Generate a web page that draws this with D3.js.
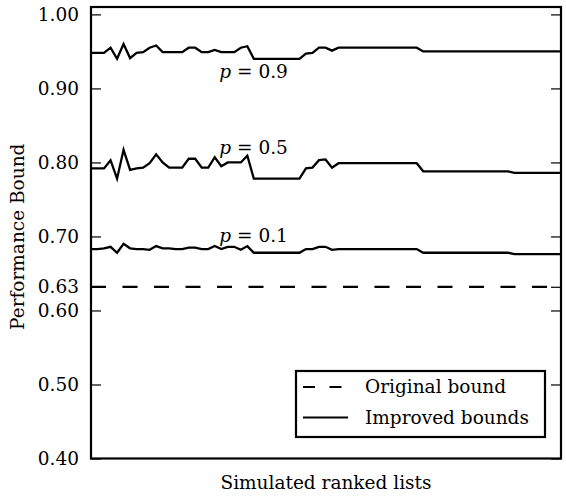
<!DOCTYPE html>
<html>
<head>
<meta charset="utf-8">
<script src="https://cdn.jsdelivr.net/npm/d3@7"></script>
<style>
  body { margin: 0; background: #fff; }
  svg text { font-family: "DejaVu Serif", serif; fill: #000; }
</style>
</head>
<body>
<div id="chart"><svg></svg></div>
<script>
// bounds per simulated ranked list (index 0..72)
const p09 = [
  0.948, 0.948, 0.948, 0.955, 0.940, 0.960, 0.941, 0.948, 0.949, 0.955,
  0.958, 0.949, 0.949, 0.949, 0.949, 0.955, 0.955, 0.949, 0.949, 0.952,
  0.949, 0.949, 0.949, 0.955, 0.957, 0.940, 0.940, 0.940, 0.940, 0.940,
  0.940, 0.940, 0.940, 0.947, 0.948, 0.955, 0.955, 0.951, 0.955, 0.955,
  0.955, 0.955, 0.955, 0.955, 0.955, 0.955, 0.955, 0.955, 0.955, 0.955,
  0.955, 0.950, 0.950, 0.950, 0.950, 0.950, 0.950, 0.950, 0.950, 0.950,
  0.950, 0.950, 0.950, 0.950, 0.950, 0.950, 0.950, 0.950, 0.950, 0.950,
  0.950, 0.950, 0.950
];
const p05 = [
  0.792, 0.792, 0.792, 0.803, 0.778, 0.817, 0.790, 0.792, 0.793, 0.799,
  0.811, 0.800, 0.793, 0.793, 0.793, 0.805, 0.805, 0.793, 0.793, 0.807,
  0.795, 0.800, 0.800, 0.800, 0.809, 0.778, 0.778, 0.778, 0.778, 0.778,
  0.778, 0.778, 0.778, 0.792, 0.793, 0.803, 0.804, 0.793, 0.799, 0.799,
  0.799, 0.799, 0.799, 0.799, 0.799, 0.799, 0.799, 0.799, 0.799, 0.799,
  0.799, 0.788, 0.788, 0.788, 0.788, 0.788, 0.788, 0.788, 0.788, 0.788,
  0.788, 0.788, 0.788, 0.788, 0.788, 0.786, 0.786, 0.786, 0.786, 0.786,
  0.786, 0.786, 0.786
];
const p01 = [
  0.683, 0.683, 0.684, 0.686, 0.678, 0.690, 0.684, 0.683, 0.683, 0.682,
  0.687, 0.684, 0.684, 0.683, 0.683, 0.685, 0.685, 0.683, 0.683, 0.687,
  0.683, 0.686, 0.686, 0.682, 0.687, 0.678, 0.678, 0.678, 0.678, 0.678,
  0.678, 0.678, 0.678, 0.683, 0.683, 0.686, 0.686, 0.682, 0.683, 0.683,
  0.683, 0.683, 0.683, 0.683, 0.683, 0.683, 0.683, 0.683, 0.683, 0.683,
  0.683, 0.678, 0.678, 0.678, 0.678, 0.678, 0.678, 0.678, 0.678, 0.678,
  0.678, 0.678, 0.678, 0.678, 0.678, 0.676, 0.676, 0.676, 0.676, 0.676,
  0.676, 0.676, 0.676
];
const originalBound = 0.632;

const seriesLabels = ["0.9", "0.5", "0.1"];
const labelAt = [{ i: 19.7, v: 0.914 }, { i: 19.7, v: 0.812 }, { i: 19.7, v: 0.693 }];

const yTicks = [0.4, 0.5, 0.6, 0.632, 0.7, 0.8, 0.9, 1.0];
const yTickLabels = ["0.40", "0.50", "0.60", "0.63", "0.70", "0.80", "0.90", "1.00"];

const legendItems = ["Original bound", "Improved bounds"];

const W = 566, H = 499;
const margin = { top: 7, right: 5, bottom: 40.5, left: 91 };
const width = W - margin.left - margin.right;
const height = H - margin.top - margin.bottom;

const svg = d3.select("#chart > svg").attr("width", W).attr("height", H);
const g = svg.append("g").attr("transform", `translate(${margin.left},${margin.top})`);

const x = d3.scaleLinear().domain([0, p09.length - 1]).range([0, width - 1]);
const y = d3.scaleLinear().domain([0.4, 1.01]).range([height, 0]);

// dashed original bound
g.append("line")
  .attr("x1", 0).attr("x2", width)
  .attr("y1", y(originalBound)).attr("y2", y(originalBound))
  .attr("stroke", "#000").attr("stroke-width", 2.2)
  .attr("stroke-dasharray", "15,16.5");

const line = d3.line().x((d, i) => x(i)).y(d => y(d));

[p09, p05, p01].forEach(s => {
  g.append("path")
    .datum(s)
    .attr("fill", "none")
    .attr("stroke", "#000")
    .attr("stroke-width", 2.3)
    .attr("stroke-linejoin", "miter")
    .attr("d", line);
});

// p = ... labels
seriesLabels.forEach((lab, k) => {
  const t = g.append("text")
    .attr("x", x(labelAt[k].i))
    .attr("y", y(labelAt[k].v))
    .attr("font-size", 18.5);
  t.append("tspan").attr("font-style", "italic").text("p");
  t.append("tspan").text(" = " + lab);
});

// axes, ticks pointing inward
const fmt = v => yTickLabels[yTicks.indexOf(v)];
const yAxis = g.append("g")
  .call(d3.axisLeft(y).tickValues(yTicks).tickFormat(fmt).tickSize(-10).tickPadding(12));
yAxis.select(".domain").remove();
yAxis.selectAll("line").attr("stroke", "#000").attr("stroke-width", 1.2);
yAxis.selectAll("text").attr("font-size", 18.5).attr("font-family", "DejaVu Serif, serif");

const yAxisR = g.append("g")
  .attr("transform", `translate(${width},0)`)
  .call(d3.axisRight(y).tickValues(yTicks).tickFormat("").tickSize(-10));
yAxisR.select(".domain").remove();
yAxisR.selectAll("line").attr("stroke", "#000").attr("stroke-width", 1.2);

// frame
g.append("rect")
  .attr("width", width).attr("height", height)
  .attr("fill", "none").attr("stroke", "#000").attr("stroke-width", 2.2);

// axis titles
svg.append("text")
  .attr("x", margin.left + width / 2)
  .attr("y", 489)
  .attr("text-anchor", "middle")
  .attr("font-size", 18.5)
  .text("Simulated ranked lists");

svg.append("text")
  .attr("transform", `translate(24,${margin.top + height / 2 + 4}) rotate(-90)`)
  .attr("text-anchor", "middle")
  .attr("font-size", 18.5)
  .text("Performance Bound");

// legend
const lg = svg.append("g").attr("transform", "translate(296,371)");
lg.append("rect")
  .attr("width", 249).attr("height", 66)
  .attr("fill", "#fff").attr("stroke", "#000").attr("stroke-width", 2.2);
legendItems.forEach((name, k) => {
  const ly = 16 + k * 30.5;
  lg.append("line")
    .attr("x1", 7).attr("x2", 52).attr("y1", ly).attr("y2", ly)
    .attr("stroke", "#000").attr("stroke-width", 2.2)
    .attr("stroke-dasharray", k === 0 ? "12,14.5" : null);
  lg.append("text")
    .attr("x", 69).attr("y", ly)
    .attr("dy", "0.35em")
    .attr("font-size", 18.5)
    .text(name);
});
</script>
</body>
</html>
